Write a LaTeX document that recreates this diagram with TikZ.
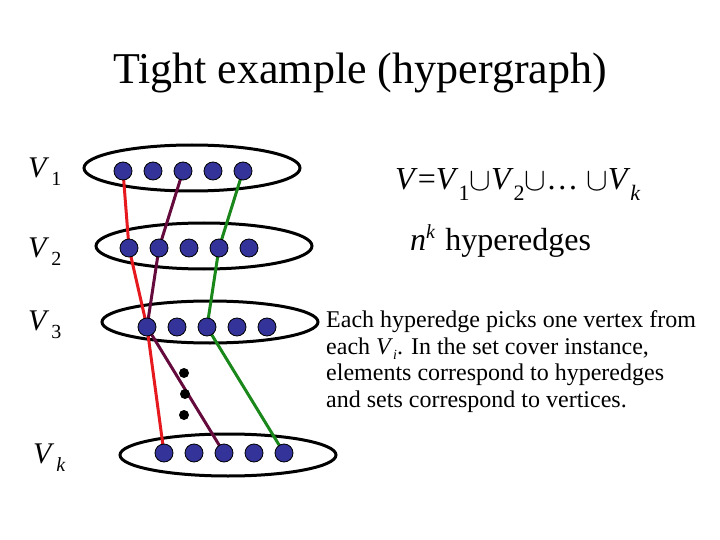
\documentclass[tikz,border=0pt]{standalone}
\usepackage{fontspec}
\setmainfont{Liberation Serif}
\usetikzlibrary{backgrounds}
\definecolor{vertexblue}{RGB}{51,51,153}
\definecolor{edgered}{RGB}{230,25,30}
\definecolor{edgeplum}{RGB}{100,10,60}
\definecolor{edgegreen}{RGB}{25,135,25}
\newcommand{\partlabel}[1]{\textit{V}\kern2pt\raisebox{-8pt}{\fontsize{20}{20}\selectfont #1}}
\newcommand{\eqsub}[1]{\raisebox{-11pt}{\fontsize{22}{22}\selectfont #1}}
\newcommand{\bigcupsym}{\raisebox{-1pt}{\scalebox{1.3}{$\cup$}}}

\begin{document}
\begin{tikzpicture}[x=1pt, y=-1pt,
  vertex/.style={circle, fill=vertexblue, draw=black, line width=0.8pt, minimum size=18pt, inner sep=0pt},
  gapdot/.style={circle, fill=black, minimum size=10pt, inner sep=0pt},
  part/.style={draw=black, line width=3pt},
  hedge/.style={line width=3pt, line join=round},
  partname/.style={anchor=base west, inner sep=0pt, font=\fontsize{30}{30}\selectfont}]
\useasboundingbox (0,0) rectangle (720,540);

\node[anchor=base, inner sep=0pt, font=\fontsize{44}{44}\selectfont] (title) at (360,84) {Tight example (hypergraph)};

% the parts V_1 ... V_k
\begin{scope}[on background layer]
\foreach \cx/\cy/\ry in {192/168/23, 204/246/23, 210/322/21, 228/455/21}
  \draw[part] (\cx,\cy) ellipse [x radius=108, y radius=\ry];
\end{scope}

% vertices
\foreach \r/\sx/\y in {1/123/171, 2/129/248, 3/147/327, k/164/453}
  \foreach \i in {1,...,5}
    \node[vertex] (v\r-\i) at ({\sx+30*(\i-1)},\y) {};

\node[gapdot] (gap1) at (184,373) {};
\node[gapdot] (gap2) at (185,394) {};
\node[gapdot] (gap3) at (184,415) {};

% hyperedges
\begin{scope}[on background layer]
\draw[hedge, edgered] (v1-1.center) -- (v2-1.center) -- (v3-1.center) -- (vk-1.center);
\draw[hedge, edgeplum] (v1-3.center) -- (v2-2.center) -- (v3-1.center) -- (vk-3.center);
\draw[hedge, edgegreen] (v1-5.center) -- (v2-4.center) -- (v3-3.center) -- (vk-5.center);
\end{scope}

\node[partname] (lab1) at (28,178) {\partlabel{1}};
\node[partname] (lab2) at (28,257) {\partlabel{2}};
\node[partname] (lab3) at (28,330) {\partlabel{3}};
\node[partname] (labk) at (33,463) {\partlabel{\textit{k}}};

\node[anchor=base west, inner sep=0pt, font=\fontsize{32}{32}\selectfont] (union) at (395,190)
  {\textit{V}=\textit{V}\eqsub{1}\bigcupsym\textit{V}\eqsub{2}\bigcupsym\dots\ \bigcupsym\textit{V}\eqsub{\textit{k}}};
\node[anchor=base west, inner sep=0pt, font=\fontsize{32}{32}\selectfont] (count) at (410,250)
  {\textit{n}\raisebox{12pt}{\fontsize{20}{20}\selectfont\textit{k}}\kern10pt hyperedges};

\node[anchor=base west, inner sep=0pt, align=left, font=\fontsize{24}{26.5}\selectfont] (note) at (326,407)
  {Each hyperedge picks one vertex from\\
   each \textit{V}\raisebox{-5pt}{\fontsize{14}{14}\selectfont\textit{i}}. In the set cover instance,\\
   elements correspond to hyperedges\\
   and sets correspond to vertices.};
\end{tikzpicture}
\end{document}
